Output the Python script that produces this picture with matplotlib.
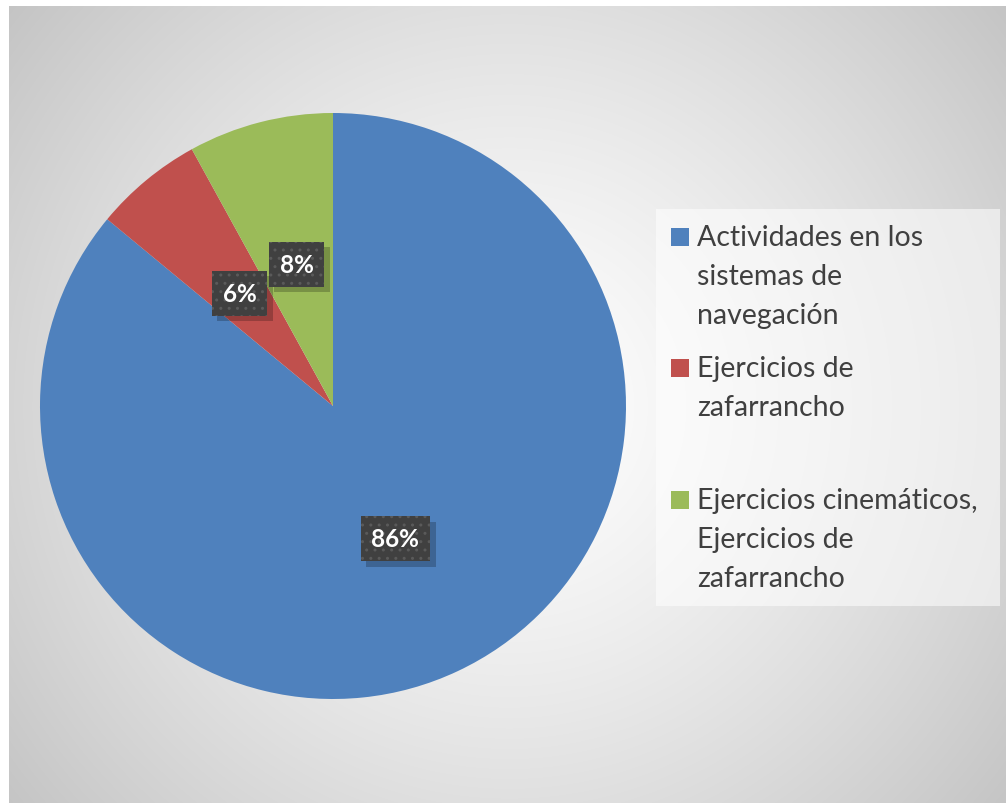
import numpy as np
import matplotlib
matplotlib.use("Agg")
import matplotlib.pyplot as plt
import matplotlib.patheffects as pe
from matplotlib.patches import Rectangle

labels = ["Actividades en los\nsistemas de\nnavegación",
          "Ejercicios de\nzafarrancho",
          "Ejercicios cinemáticos,\nEjercicios de\nzafarrancho"]
values = [86, 6, 8]
colors = ["#4F81BD", "#C0504D", "#9BBB59"]

W, H = 1006, 804
fig = plt.figure(figsize=(W / 100, H / 100), dpi=100)
fig.patch.set_facecolor("white")

# radial grey background of the chart area
x0, y0 = 9, 7
bg = fig.add_axes([x0 / W, 0, (W - x0) / W, (H - y0) / H], zorder=-5)
yy, xx = np.mgrid[0:H - y0, 0:W - x0]
cx, cy = 500, 400
r = np.hypot(xx - cx, yy - cy) / np.hypot(cx, cy)
g = 1 - 0.23 * np.clip(r, 0, 1.1) ** 1.3
bg.imshow(np.dstack([g, g, g]), aspect="auto", interpolation="bilinear")
bg.axis("off")

# pie
pcx, pcy, rad = 333, 407, 293
ax = fig.add_axes([(pcx - rad) / W, (H - pcy - rad) / H, 2 * rad / W, 2 * rad / H])
wedges, texts, autotexts = ax.pie(values, colors=colors, startangle=90, counterclock=False,
                                  autopct="%1.0f%%", pctdistance=0.5,
                                  wedgeprops=dict(linewidth=0),
                                  textprops=dict(color="white", fontsize=17.5,
                                                 fontweight="bold", family="Lato"))
ax.set_xlim(-1, 1)
ax.set_ylim(-1, 1)
for t in autotexts:
    t.set_bbox(dict(boxstyle="square,pad=0.45", facecolor="#404040",
                    edgecolor="#5a5a5a", hatch="..", linewidth=0))
    t.get_bbox_patch().set_path_effects([
        pe.SimplePatchShadow(offset=(4, -4), shadow_rgbFace="black", alpha=0.22, hatch=None),
        pe.Normal()])

# legend drawn by hand (uneven spacing as in original)
fig.patches.append(Rectangle((656 / W, 1 - 607 / H), 344 / W, 397 / H,
                             transform=fig.transFigure, facecolor="white",
                             alpha=0.55, edgecolor="none"))
starts = [238, 369, 501]
for lab, col, ys in zip(labels, colors, starts):
    fig.patches.append(Rectangle((671 / W, 1 - (ys + 9) / H), 18 / W, 18 / H,
                                 transform=fig.transFigure, facecolor=col,
                                 edgecolor="none"))
    for i, line in enumerate(lab.split("\n")):
        fig.text(697 / W, 1 - (ys + 39 * i) / H, line, ha="left", va="center",
                 fontsize=20.5, color="#404040", family="Lato")

fig.savefig("out.png", dpi=100)
